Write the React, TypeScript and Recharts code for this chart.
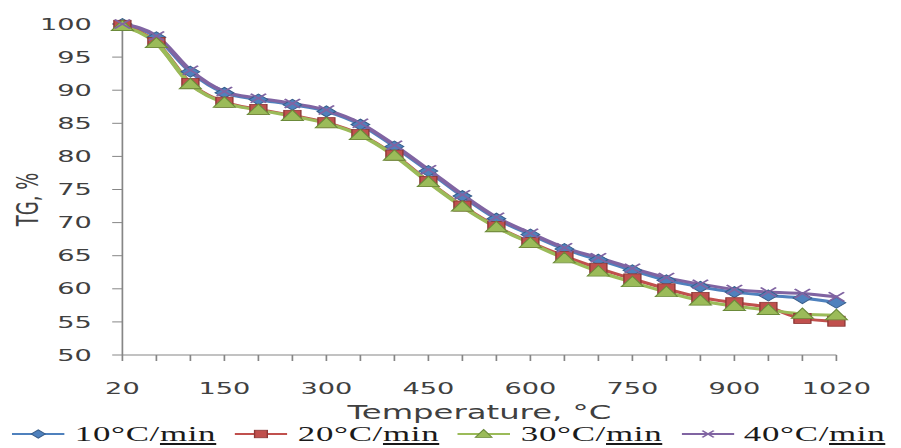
import { Legend, Line, LineChart, XAxis, YAxis } from "recharts";

// heating temperature, °C (one category per measurement)
const temperatures = [
  20, 50, 100, 150, 200, 250, 300, 350, 400, 450, 500, 550, 600, 650, 700, 750, 800, 850, 900, 950,
  1000, 1020,
];
const xTickLabels = ["20", "150", "300", "450", "600", "750", "900", "1020"];
const yTicks = [50, 55, 60, 65, 70, 75, 80, 85, 90, 95, 100];

// TG, % at each heating rate
const tg10 = [
  100, 98.0, 92.8, 89.6, 88.6, 87.8, 86.8, 84.8, 81.5, 77.8, 74.0, 70.6, 68.2, 66.0, 64.4, 62.8,
  61.3, 60.3, 59.5, 59.0, 58.6, 57.9,
];
const tg20 = [
  99.8, 97.2, 91.0, 88.2, 87.1, 86.2, 85.1, 83.3, 80.2, 76.2, 72.5, 69.4, 67.0, 64.9, 63.1, 61.5,
  60.0, 58.7, 57.9, 57.2, 55.5, 55.1,
];
const tg30 = [
  99.7, 97.1, 90.9, 88.1, 87.0, 86.1, 85.0, 83.2, 80.1, 76.1, 72.4, 69.3, 66.9, 64.6, 62.6, 61.0,
  59.5, 58.2, 57.4, 56.8, 56.2, 56.0,
];
const tg40 = [
  100, 98.2, 93.0, 89.8, 88.8, 88.0, 87.0, 85.0, 81.7, 78.0, 74.2, 70.8, 68.4, 66.2, 64.7, 63.1,
  61.7, 60.7, 59.9, 59.5, 59.3, 58.8,
];

const rows = temperatures.map((t, i) => ({
  t: String(t),
  r10: tg10[i],
  r20: tg20[i],
  r30: tg30[i],
  r40: tg40[i],
}));

type Shape = "diamond" | "square" | "triangle" | "cross";

const series: { key: string; rate: string; color: string; edge: string; shape: Shape }[] = [
  { key: "r10", rate: "10", color: "#4F81BD", edge: "#385D8A", shape: "diamond" },
  { key: "r20", rate: "20", color: "#C0504D", edge: "#8C3836", shape: "square" },
  { key: "r30", rate: "30", color: "#9BBB59", edge: "#6B8A3A", shape: "triangle" },
  { key: "r40", rate: "40", color: "#8064A2", edge: "#5C4776", shape: "cross" },
];

// the whole figure is drawn narrow and widened, like the old exported plot
const STRETCH = 1.7;
const W = 530;
const H = 448;
const AXIS = "#868686";
const INK = "#404040";
const SANS = '"DejaVu Sans", sans-serif';

function Marker({
  shape,
  cx,
  cy,
  color,
  edge,
  size = 1,
}: {
  shape: Shape;
  cx?: number | null;
  cy?: number | null;
  color: string;
  edge: string;
  size?: number;
}) {
  if (cx == null || cy == null) return null;
  const k = size;
  switch (shape) {
    case "diamond":
      return (
        <path
          d={`M${cx} ${cy - 5.5 * k}L${cx + 5.5 * k} ${cy}L${cx} ${cy + 5.5 * k}L${cx - 5.5 * k} ${cy}Z`}
          fill={color}
          stroke={edge}
          strokeWidth={0.8}
        />
      );
    case "square":
      return (
        <rect
          x={cx - 5 * k}
          y={cy - 5 * k}
          width={10 * k}
          height={10 * k}
          fill={color}
          stroke={edge}
          strokeWidth={0.8}
        />
      );
    case "triangle":
      return (
        <path
          d={`M${cx} ${cy - 6 * k}L${cx + 6.5 * k} ${cy + 4.5 * k}L${cx - 6.5 * k} ${cy + 4.5 * k}Z`}
          fill={color}
          stroke={edge}
          strokeWidth={0.8}
        />
      );
    default:
      return (
        <path
          d={`M${cx - 4.5 * k} ${cy - 4.5 * k}L${cx + 4.5 * k} ${cy + 4.5 * k}M${cx - 4.5 * k} ${cy + 4.5 * k}L${cx + 4.5 * k} ${cy - 4.5 * k}`}
          stroke={color}
          strokeWidth={1.4}
          fill="none"
        />
      );
  }
}

function XTick({ x, y, payload }: { x?: number; y?: number; payload?: { value: string } }) {
  if (!payload || !xTickLabels.includes(payload.value)) return <g />;
  return (
    <text x={x} y={y} dy={31} textAnchor="middle" fontSize={16} fill={INK} fontFamily={SANS}>
      {payload.value}
    </text>
  );
}

const renderLegend = () => (
  <div
    style={{
      display: "flex",
      alignItems: "center",
      gap: 11,
      paddingLeft: 7,
      height: 26,
      fontFamily: '"Liberation Serif", serif',
      fontSize: 20.5,
      letterSpacing: 0.4,
      lineHeight: "26px",
      color: "#1a1a1a",
      whiteSpace: "nowrap",
    }}
  >
    {series.map((s) => (
      <div key={s.key} style={{ display: "flex", alignItems: "center", gap: 6 }}>
        <svg width={31} height={14}>
          <line x1={0} y1={7} x2={31} y2={7} stroke={s.color} strokeWidth={2} />
          <Marker shape={s.shape} cx={15.5} cy={7} color={s.color} edge={s.edge} size={0.75} />
        </svg>
        <span>
          {s.rate}°C/<span style={{ textDecoration: "underline" }}>min</span>
        </span>
      </div>
    ))}
  </div>
);

export default function App() {
  return (
    <div style={{ position: "absolute", left: 0, top: 0, width: W * STRETCH, height: H, background: "#fff" }}>
      <div style={{ width: W, height: H, transform: `scaleX(${STRETCH})`, transformOrigin: "0 0" }}>
        <LineChart width={W} height={H} data={rows} margin={{ top: 24, right: 38, bottom: 1, left: 0 }}>
          <XAxis
            dataKey="t"
            interval={0}
            padding={{ left: 0, right: 0 }}
            height={66}
            tickSize={6}
            tickMargin={2}
            tick={XTick}
            axisLine={{ stroke: AXIS }}
            tickLine={{ stroke: AXIS }}
            label={{
              value: "Temperature, °C",
              position: "insideBottom",
              offset: 2,
              fontSize: 19,
              fill: INK,
              fontFamily: SANS,
            }}
          />
          <YAxis
            width={72}
            domain={[50, 100]}
            ticks={yTicks}
            interval={0}
            tickSize={6}
            tickMargin={12}
            tick={{ fontSize: 16, fill: INK, fontFamily: SANS }}
            axisLine={{ stroke: AXIS }}
            tickLine={{ stroke: AXIS }}
            label={{
              value: "TG, %",
              angle: -90,
              position: "insideLeft",
              offset: 16,
              dy: 10,
              fontSize: 18,
              fill: INK,
              fontFamily: SANS,
              style: { textAnchor: "middle" },
            }}
          />
          <Legend verticalAlign="bottom" content={renderLegend} wrapperStyle={{ left: 0, bottom: 1, width: W, height: 26 }} />
          {series.map((s) => (
            <Line
              key={s.key}
              type="monotone"
              dataKey={s.key}
              stroke={s.color}
              strokeWidth={3}
              isAnimationActive={false}
              activeDot={false}
              dot={(p: { cx?: number; cy?: number; index?: number }) => (
                <Marker key={`${s.key}-${p.index}`} shape={s.shape} cx={p.cx} cy={p.cy} color={s.color} edge={s.edge} />
              )}
            />
          ))}
        </LineChart>
      </div>
    </div>
  );
}
